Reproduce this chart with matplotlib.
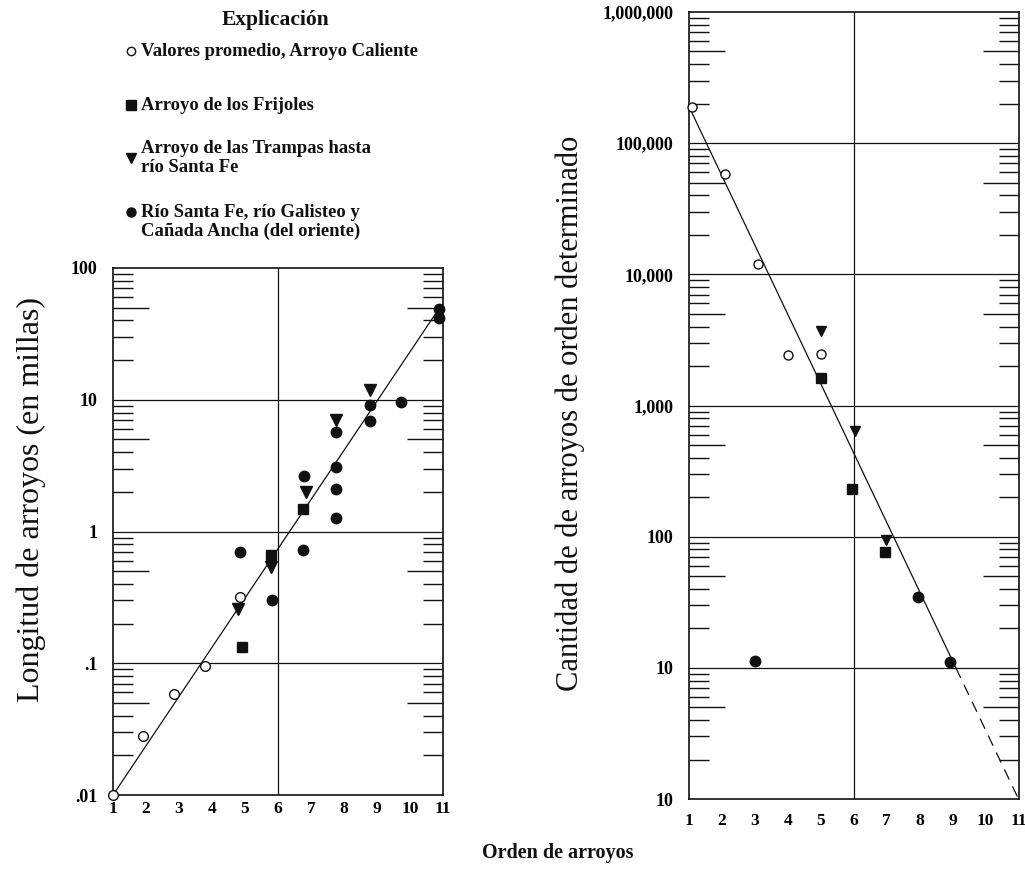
import math
import matplotlib
matplotlib.use('Agg')
import matplotlib.pyplot as plt
from matplotlib.lines import Line2D
from matplotlib.ticker import FixedLocator, NullFormatter

plt.rcParams['font.family'] = ['Liberation Serif', 'DejaVu Serif']

# --- longitud de arroyos (millas) por orden ---
caliente_len_x = [1.0, 1.9, 2.85, 3.78, 4.85]
caliente_len_y = [0.01, 0.028, 0.058, 0.096, 0.32]
frijoles_len_x = [4.9, 5.8, 6.77]
frijoles_len_y = [0.134, 0.66, 1.47]
trampas_len_x = [4.8, 5.8, 6.86, 7.76, 8.8]
trampas_len_y = [0.26, 0.54, 2.0, 7.0, 11.9]
santafe_len_x = [4.85, 5.83, 6.77, 6.8, 7.77, 7.77, 7.77, 7.77, 8.78, 8.8, 9.73, 10.87, 10.89]
santafe_len_y = [0.70, 0.30, 0.73, 2.64, 5.66, 3.07, 2.09, 1.27, 9.2, 6.86, 9.6, 48.6, 41.5]
fit_len_x = [1.0, 10.85]
fit_len_y = [0.01, 48.0]

# --- cantidad de arroyos por orden ---
caliente_num_x = [1.1, 2.1, 3.1, 4.0, 5.0]
caliente_num_y = [188000, 58500, 11900, 2440, 2480]
frijoles_num_x = [5.0, 5.95, 6.95]
frijoles_num_y = [1620, 231, 76]
trampas_num_x = [5.0, 6.03, 6.97]
trampas_num_y = [3690, 644, 94]
santafe_num_x = [3.0, 7.95, 8.92]
santafe_num_y = [11.3, 34.8, 11.0]
fit_num_x = [1.0, 9.1]
fit_num_y = [190000, 10.0]
ext_num_x = [9.1, 11.0]
ext_num_y = [10.0, 1.0]

orders = list(range(1, 12))
len_ticks = [0.01, 0.1, 1, 10, 100]
len_labels = ['.01', '.1', '1', '10', '100']
num_ticks = [1, 10, 100, 1000, 10000, 100000, 1000000]
num_labels = ['10', '10', '100', '1,000', '10,000', '100,000', '1,000,000']

legend_labels = ['Valores promedio, Arroyo Caliente',
                 'Arroyo de los Frijoles',
                 'Arroyo de las Trampas hasta\nrío Santa Fe',
                 'Río Santa Fe, río Galisteo y\nCañada Ancha (del oriente)']

W, H = 1025, 871
fig = plt.figure(figsize=(W / 100, H / 100), dpi=100)
ax1 = fig.add_axes([113 / W, 1 - 795 / H, 330 / W, 527 / H])
ax2 = fig.add_axes([689 / W, 1 - 799 / H, 329.5 / W, 787 / H])

INK = '#111111'


def style(ax, yt, ylab, xpad):
    ax.set_yscale('log')
    ax.set_xlim(1, 11)
    ax.set_ylim(yt[0], yt[-1])
    ax.set_yticks(yt, ylab, fontweight='bold', fontsize=13)
    ax.set_xticks(orders, [str(o) for o in orders], fontweight='bold', fontsize=12.5)
    ax.tick_params(axis='y', which='major', length=0, pad=11)
    ax.tick_params(axis='x', which='major', length=0, pad=xpad)
    minors = [m * d for d in yt[:-1] for m in range(2, 10)]
    ax.yaxis.set_minor_locator(FixedLocator(minors))
    ax.yaxis.set_minor_formatter(NullFormatter())
    ax.xaxis.set_minor_locator(FixedLocator([2, 3, 4, 5, 7, 8, 9, 10]))
    ax.xaxis.set_minor_formatter(NullFormatter())
    ax.tick_params(which='minor', direction='in', left=True, right=True,
                   top=True, bottom=True, length=14.5, width=1, color=INK)
    for sp in ax.spines.values():
        sp.set_linewidth(1.2)
        sp.set_color(INK)
    for v in yt[1:-1]:
        ax.axhline(v, color=INK, lw=0.9, zorder=1)
    ax.axvline(6, color=INK, lw=0.9, zorder=1)
    # longer ticks at 5 of every decade
    locs = ax.yaxis.get_minorticklocs()
    for tick, loc in zip(ax.yaxis.get_minor_ticks(len(locs)), locs):
        mant = loc / 10 ** math.floor(math.log10(loc) + 1e-9)
        if abs(mant - 5) < 0.01:
            tick.tick1line.set_markersize(26)
            tick.tick2line.set_markersize(26)


style(ax1, len_ticks, len_labels, 4)
style(ax2, num_ticks, num_labels, 10)

mk = dict(clip_on=False, zorder=5, ls='none')

ax1.plot(fit_len_x, fit_len_y, color=INK, lw=0.9, zorder=3)
ax1.plot(caliente_len_x, caliente_len_y, marker='o', ms=7, mfc='white', mec=INK, mew=1, **mk)
ax1.plot(frijoles_len_x, frijoles_len_y, marker='s', ms=7.5, color=INK, **mk)
ax1.plot(trampas_len_x, trampas_len_y, marker='v', ms=8, color=INK, **mk)
ax1.plot(santafe_len_x, santafe_len_y, marker='o', ms=7.5, color=INK, **mk)

ax2.plot(fit_num_x, fit_num_y, color=INK, lw=0.9, zorder=3)
ax2.plot(ext_num_x, ext_num_y, color=INK, lw=0.9, dashes=(9, 6), zorder=3)
ax2.plot(caliente_num_x, caliente_num_y, marker='o', ms=6.5, mfc='white', mec=INK, mew=1, **mk)
ax2.plot(frijoles_num_x, frijoles_num_y, marker='s', ms=7.5, color=INK, **mk)
ax2.plot(trampas_num_x, trampas_num_y, marker='v', ms=7, color=INK, **mk)
ax2.plot(santafe_num_x, santafe_num_y, marker='o', ms=7.5, color=INK, **mk)

# axis titles
fig.text(31 / W, 1 - 500 / H, 'Longitud de arroyos (en millas)', rotation=90,
         ha='center', va='center', fontsize=23, color=INK)
fig.text(570 / W, 1 - 413 / H, 'Cantidad de de arroyos de orden determinado', rotation=90,
         ha='center', va='center', fontsize=22, color=INK)
fig.text(558 / W, 1 - 853 / H, 'Orden de arroyos', ha='center', va='center',
         fontsize=14.5, fontweight='bold', color=INK)

# explanation block
fig.text(276 / W, 1 - 20 / H, 'Explicación', ha='center', va='center',
         fontsize=15.5, fontweight='bold', color=INK)
legend_marks = [dict(marker='o', mfc='white', mec=INK, mew=1, ms=6),
                dict(marker='s', color=INK, ms=6.5),
                dict(marker='v', color=INK, ms=7),
                dict(marker='o', color=INK, ms=6.5)]
mark_y = [51, 105, 158, 212]
text_y = [51, 105, 158, 222]
for lab, m, my, ty in zip(legend_labels, legend_marks, mark_y, text_y):
    fig.add_artist(Line2D([131 / W], [1 - my / H], transform=fig.transFigure, **m))
    fig.text(141 / W, 1 - ty / H, lab, ha='left', va='center', fontsize=13.4,
             fontweight='bold', color=INK, linespacing=1.15)

fig.savefig('out.png', dpi=100)
